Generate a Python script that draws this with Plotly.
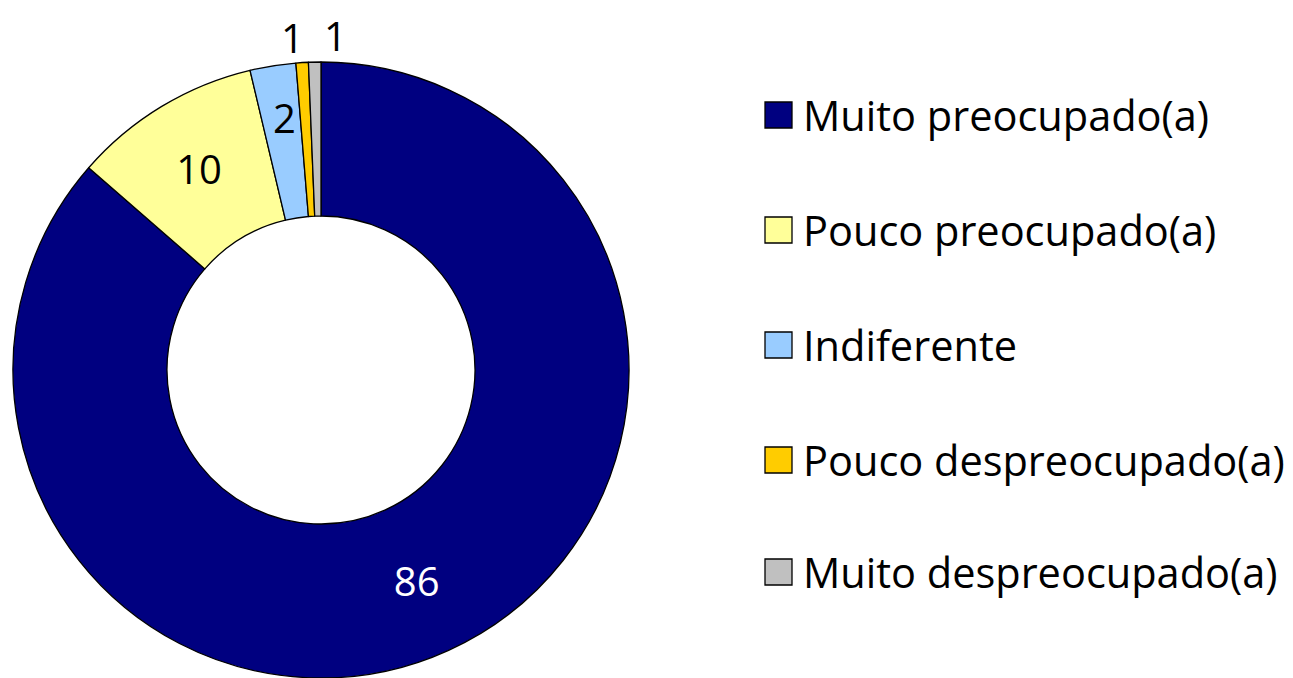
import plotly.graph_objects as go

labels = ["Muito preocupado(a)", "Pouco preocupado(a)", "Indiferente",
          "Pouco despreocupado(a)", "Muito despreocupado(a)"]
values = [86.4, 9.9, 2.4, 0.65, 0.65]
colors = ["#000080", "#FFFF99", "#99CCFF", "#FFCC00", "#C0C0C0"]
text_colors = ["white", "black", "black", "black", "black"]
# slices whose value label is drawn by the pie itself
pie_labelled = [True, True, False, False, False]

W, H = 1293, 678
OFF = 8  # page body margin offset in the browser
FONT = "Open Sans"
FS_LAB = 40
FS_LEG = 41.5


def px_x(x):
    return (x - OFF) / W


def px_y(y):
    return 1 - (y - OFF) / H


fig = go.Figure()
fig.add_trace(go.Pie(
    labels=labels,
    values=values,
    sort=False,
    direction="clockwise",
    rotation=0,
    hole=0.5,
    marker=dict(colors=colors, line=dict(color="black", width=1.3)),
    texttemplate=["%{value:.0f}" if f else "" for f in pie_labelled],
    textposition="inside",
    insidetextorientation="horizontal",
    textfont=dict(color=text_colors, size=FS_LAB, family=FONT),
    automargin=False,
    domain=dict(x=[px_x(13), px_x(629)], y=[px_y(678), px_y(62)]),
    showlegend=False,
    hoverinfo="label+value",
))

# value labels for the narrow slices (placed beside/above their slices)
small_label_pos = {2: (284, 117), 3: (292, 37), 4: (335, 35)}
for i, (px, py) in small_label_pos.items():
    fig.add_annotation(xref="paper", yref="paper", x=px_x(px), y=px_y(py),
                       xanchor="center", yanchor="middle", height=44,
                       text=f"{round(values[i])}", showarrow=False,
                       font=dict(size=FS_LAB, family=FONT, color=text_colors[i]))

# manual legend (large row spacing)
row_y = [115, 230, 345, 460, 572]
for lab, col, yy in zip(labels, colors, row_y):
    fig.add_shape(type="rect", xref="paper", yref="paper",
                  x0=px_x(765), x1=px_x(792), y0=px_y(yy + 13), y1=px_y(yy - 13),
                  fillcolor=col, line=dict(color="black", width=1.3))
    fig.add_annotation(xref="paper", yref="paper", x=px_x(801), y=px_y(yy),
                       xanchor="left", yanchor="middle", text=lab, showarrow=False,
                       font=dict(size=FS_LEG, family=FONT, color="black"))

fig.update_layout(
    width=W, height=H,
    margin=dict(l=0, r=0, t=0, b=0, autoexpand=False),
    paper_bgcolor="white", plot_bgcolor="white",
    font=dict(family=FONT, size=FS_LAB, color="black"),
)

fig.write_html("out.html")
